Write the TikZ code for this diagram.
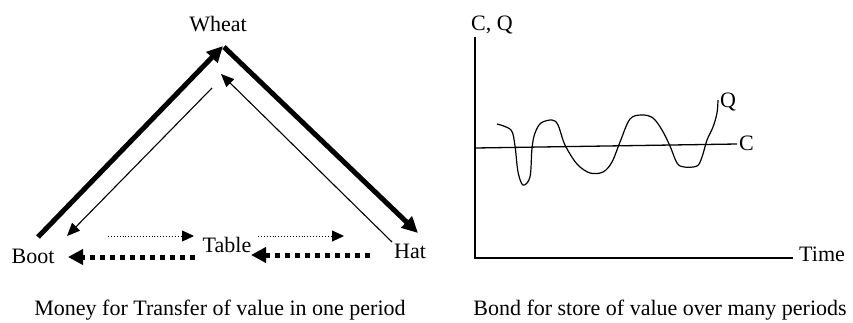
\documentclass[tikz,border=0pt]{standalone}
\usepackage{fontspec}
\setmainfont{Liberation Serif}
\usetikzlibrary{arrows.meta}
\begin{document}
\begin{tikzpicture}[x=1pt,y=-1pt,
  lbl/.style={font=\fontsize{22}{24}\selectfont, inner sep=0pt},
  heavy/.style={line width=5pt, -{Triangle[length=16pt,width=15pt]}},
  light/.style={line width=1.1pt, -{Triangle[length=13pt,width=11pt]}},
  fine/.style={line width=0.9pt, dotted, -{Triangle[length=12pt,width=11pt]}},
  bold dash/.style={line width=5pt, dash pattern=on 5pt off 5pt, -{Triangle[length=15pt,width=15pt]}},
  curve/.style={line width=1.2pt}]
\useasboundingbox (0,0) rectangle (853,322);
% left panel
\node[lbl] (wheat) at (218,24) {Wheat};
\node[lbl] (boot) at (33,256) {Boot};
\node[lbl] (hat) at (410,251) {Hat};
\node[lbl] (table) at (227,245) {Table};
\coordinate (bootA) at (38,237);
\coordinate (apexA) at (223,46);
\coordinate (apexB) at (224,47);
\coordinate (hatA) at (418,233);
\draw[heavy] (bootA) -- (apexA);
\draw[heavy] (apexB) -- (hatA);
\coordinate (thinS) at (212,88);
\coordinate (thinE) at (67,236);
\coordinate (hatS) at (392,242);
\coordinate (thinTop) at (221,74);
\draw[light] (thinS) -- (thinE);
\draw[light] (hatS) -- (thinTop);
\coordinate (d1s) at (108,236);
\coordinate (d1e) at (194,236);
\coordinate (d2s) at (258,236);
\coordinate (d2e) at (344,236);
\draw[fine] (d1s) -- (d1e);
\draw[fine] (d2s) -- (d2e);
\coordinate (b1s) at (195,257);
\coordinate (b1e) at (68,257);
\coordinate (b2s) at (370,255);
\coordinate (b2e) at (251,255);
\draw[bold dash] (b1s) -- (b1e);
\draw[bold dash] (b2s) -- (b2e);
\node[lbl] (capL) at (220,310) {Money for Transfer of value in one period};
% right panel
\node[lbl] (cq) at (492,25) {C, Q};
\coordinate (ytop) at (475,37);
\coordinate (orig) at (475,258);
\coordinate (xend) at (793,258);
\draw[line width=1.4pt] (ytop) -- (orig) -- (xend);
\node[lbl, anchor=west] (time) at (799,254) {Time};
\coordinate (cs) at (475,148);
\coordinate (ce) at (737,144);
\draw[line width=1.3pt] (cs) -- (ce);
\node[lbl, anchor=west] (clab) at (739,143) {C};
\draw[curve] plot[smooth, tension=0.55] coordinates {
 (497,124) (511,130) (515,146) (518,172) (523,185) (530,177) (532,148)
 (535,133) (541,123) (552,120) (558,125) (565,145) (577,164) (590,173)
 (603,172) (612,162) (620,142) (630,119) (642,115) (653,118) (662,130)
 (670,146) (677,163) (684,167) (697,166) (702,157) (707,140) (713,127)
 (717,113) (718,100)};
\node[lbl, anchor=west] (qlab) at (720,102) {Q};
\node[lbl] (capR) at (660,310) {Bond for store of value over many periods};
\end{tikzpicture}
\end{document}
